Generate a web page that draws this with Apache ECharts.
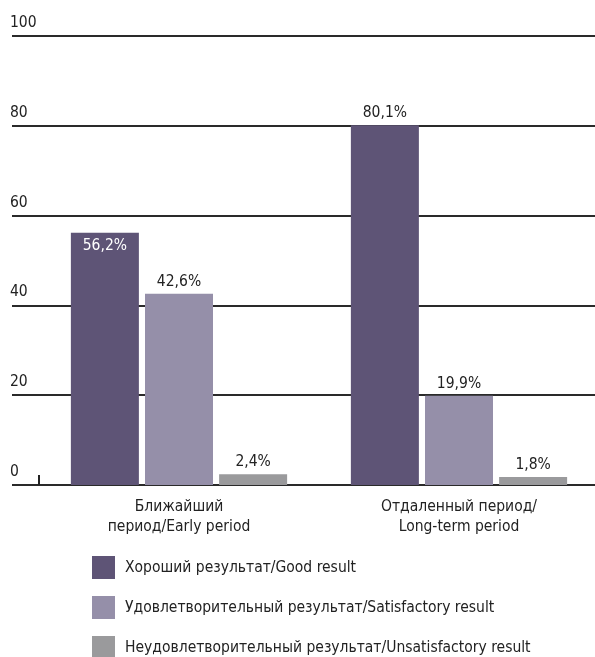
<!DOCTYPE html>
<html>
<head>
<meta charset="utf-8">
<script src="https://cdn.jsdelivr.net/npm/echarts@6/dist/echarts.min.js"></script>
<style>
  html, body { margin: 0; padding: 0; background: #ffffff; }
  #chart { width: 595px; height: 657px; }
</style>
</head>
<body>
<div id="chart"></div>
<script>
// Outcome shares (%) by follow-up period
const categories = ['Ближайший\nпериод/Early period', 'Отдаленный период/\nLong-term period'];
const seriesNames = [
  'Хороший результат/Good result',
  'Удовлетворительный результат/Satisfactory result',
  'Неудовлетворительный результат/Unsatisfactory result'
];
const goodValues = [56.2, 80.1];
const satisfactoryValues = [42.6, 19.9];
const unsatisfactoryValues = [2.4, 1.8];
const yTicks = { min: 0, max: 100, step: 20 };

const FONT = '"Liberation Sans Narrow", "DejaVu Sans Condensed", "Liberation Sans", sans-serif';
const FS = 15.5;
const colors = ['#5e5476', '#958fa9', '#9a9a9c'];

const fmt = v => String(v.toFixed(1)).replace('.', ',') + '%';

function barLabel() {
  return {
    show: true,
    position: 'top',
    distance: 4,
    fontFamily: FONT,
    fontSize: FS,
    color: '#222',
    formatter: p => fmt(p.value)
  };
}

// the short-term "good" bar carries its label inside, in white
const goodData = goodValues.map((v, i) => i === 0
  ? { value: v, label: { position: 'insideTop', distance: 5, color: '#ffffff' } }
  : v);

const chart = echarts.init(document.getElementById('chart'), null, { renderer: 'canvas' });

chart.setOption({
  animation: false,
  textStyle: { fontFamily: FONT },
  grid: [
    { left: 12, right: 0, top: 36, height: 449, outerBoundsMode: 'none' },
    { left: 39, width: 560, top: 36, height: 449, outerBoundsMode: 'none' }
  ],
  xAxis: [
    { gridIndex: 0, type: 'value', show: false },
    {
      gridIndex: 1,
      type: 'category',
      data: categories,
      axisLine: { show: false },
      axisTick: {
        show: true,
        inside: true,
        length: 10,
        lineStyle: { color: '#222', width: 2 },
        interval: (i) => i === 0
      },
      axisLabel: {
        margin: 12,
        fontFamily: FONT,
        fontSize: FS,
        lineHeight: 20,
        color: '#222'
      }
    }
  ],
  yAxis: [
    {
      gridIndex: 0,
      type: 'value',
      min: yTicks.min,
      max: yTicks.max,
      interval: yTicks.step,
      axisLine: { show: false },
      axisTick: { show: false },
      splitLine: { show: true, lineStyle: { color: '#2a2a2a', width: 2 } },
      axisLabel: {
        inside: true,
        margin: -2,
        verticalAlign: 'bottom',
        padding: [0, 0, 5, 0],
        fontFamily: FONT,
        fontSize: FS,
        color: '#222'
      }
    },
    {
      gridIndex: 1,
      type: 'value',
      min: yTicks.min,
      max: yTicks.max,
      interval: yTicks.step,
      show: false,
      splitLine: { show: false }
    }
  ],
  legend: {
    orient: 'vertical',
    left: 92,
    top: 556,
    height: 110,
    padding: 0,
    itemWidth: 23,
    itemHeight: 23,
    itemGap: 17,
    icon: 'rect',
    selectedMode: false,
    textStyle: { fontFamily: FONT, fontSize: FS, color: '#222', padding: [0, 0, 0, 5] },
    data: seriesNames
  },
  series: [
    {
      name: seriesNames[0], type: 'bar', xAxisIndex: 1, yAxisIndex: 1,
      data: goodData, barWidth: 68, barGap: '9%',
      itemStyle: { color: colors[0] }, label: barLabel()
    },
    {
      name: seriesNames[1], type: 'bar', xAxisIndex: 1, yAxisIndex: 1,
      data: satisfactoryValues, barWidth: 68, barGap: '9%',
      itemStyle: { color: colors[1] }, label: barLabel()
    },
    {
      name: seriesNames[2], type: 'bar', xAxisIndex: 1, yAxisIndex: 1,
      data: unsatisfactoryValues, barWidth: 68, barGap: '9%',
      itemStyle: { color: colors[2] }, label: barLabel()
    }
  ]
});
</script>
</body>
</html>
